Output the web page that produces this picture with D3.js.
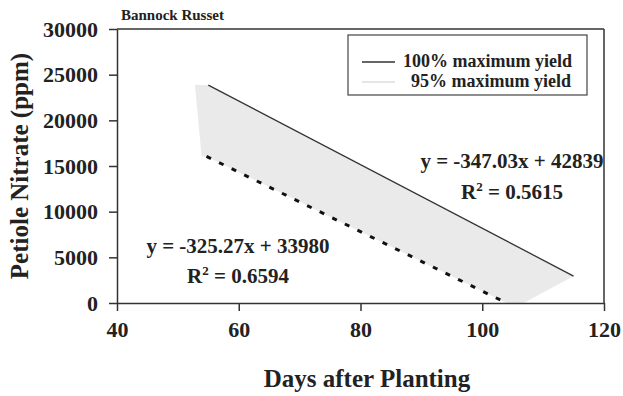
<!DOCTYPE html>
<html>
<head>
<meta charset="utf-8">
<script src="https://cdn.jsdelivr.net/npm/d3@7"></script>
<style>
  body { margin: 0; background: #fff; }
  text { font-family: "Liberation Serif", "Times New Roman", serif; font-weight: bold; fill: #222; }
</style>
</head>
<body>
<div id="chart"></div>
<script>
// values
var xTicks = [40, 60, 80, 100, 120];
var yTicks = [0, 5000, 10000, 15000, 20000, 25000, 30000];
var line100 = [[55, 23850], [115, 2950]];
var line95 = [[54.7, 16050], [104, 0]];
var band95 = [[52.8, 23900], [55, 23850], [115, 2950], [114.6, 2800], [106.8, 0], [104, 0], [54.7, 16050], [53.9, 16050]];
var legendLabels = ["100% maximum yield", "95% maximum yield"];
var eq100 = ["y = -347.03x + 42839", "0.5615"];
var eq95 = ["y = -325.27x + 33980", "0.6594"];

let svg = d3.select("#chart")
    .append("svg")
    .attr("width", 623)
    .attr("height", 396)

var x = d3.scaleLinear()
    .domain([40, 120])
    .range([117, 604]);
var y = d3.scaleLinear()
    .domain([0, 30000])
    .range([303, 29]);

// shaded band
svg.append("path")
    .datum(band95)
    .attr("d", d3.line().x(d => x(d[0])).y(d => y(d[1])))
    .attr("fill", "#eaeaea")
    .attr("stroke", "none")

svg.append("path")
    .datum(line100)
    .attr("d", d3.line().x(d => x(d[0])).y(d => y(d[1])))
    .attr("fill", "none")
    .attr("stroke", "#333")
    .attr("stroke-width", 1.3)

svg.append("path")
    .datum(line95)
    .attr("d", d3.line().x(d => x(d[0])).y(d => y(d[1])))
    .attr("fill", "none")
    .attr("stroke", "#111")
    .attr("stroke-width", 3)
    .attr("stroke-dasharray", "5,9")

// frame
svg.append("line")
    .attr("x1", x(40)).attr("x2", x(120))
    .attr("y1", y(30000)).attr("y2", y(30000))
    .attr("stroke", "#333").attr("stroke-width", 1.5)
svg.append("line")
    .attr("x1", x(120)).attr("x2", x(120))
    .attr("y1", y(30000)).attr("y2", y(0))
    .attr("stroke", "#333").attr("stroke-width", 1.5)

var xAxis = svg.append("g")
    .attr("transform", "translate(0," + y(0) + ")")
    .call(d3.axisBottom(x).tickValues(xTicks).tickSize(8).tickSizeOuter(0).tickPadding(10))
var yAxis = svg.append("g")
    .attr("transform", "translate(" + x(40) + ",0)")
    .call(d3.axisLeft(y).tickValues(yTicks).tickSize(8).tickSizeOuter(0).tickPadding(11).tickFormat(d3.format("d")))

svg.selectAll(".domain, .tick line")
    .attr("stroke", "#333")
    .attr("stroke-width", 1.5)
svg.selectAll(".tick text")
    .style("font-family", "'Liberation Serif', serif")
    .style("font-weight", "bold")
    .style("font-size", "22px")
    .attr("fill", "#222")

svg.append("text")
    .attr("x", 121)
    .attr("y", 20)
    .style("font-size", "15px")
    .text("Bannock Russet");

svg.append("text")
    .attr("text-anchor", "middle")
    .attr("x", 367)
    .attr("y", 387)
    .style("font-size", "25px")
    .text("Days after Planting");

svg.append("text")
    .attr("text-anchor", "middle")
    .attr("x", -166)
    .attr("y", 28)
    .attr("transform", "rotate(-90)")
    .style("font-size", "25px")
    .text("Petiole Nitrate (ppm)");

// legend
svg.append("rect")
    .attr("x", 348).attr("y", 35)
    .attr("width", 239).attr("height", 60)
    .attr("fill", "#fff")
    .attr("stroke", "#444").attr("stroke-width", 1.2)
svg.append("line")
    .attr("x1", 362).attr("x2", 395).attr("y1", 62).attr("y2", 62)
    .attr("stroke", "#333").attr("stroke-width", 1.3)
svg.append("line")
    .attr("x1", 362).attr("x2", 395).attr("y1", 82).attr("y2", 82)
    .attr("stroke", "#ddd").attr("stroke-width", 1.3)
svg.append("text")
    .attr("x", 403).attr("y", 67)
    .style("font-size", "18px")
    .text(legendLabels[0]);
svg.append("text")
    .attr("x", 411).attr("y", 87)
    .style("font-size", "18px")
    .text(legendLabels[1]);

// equations
function equation(cx, y1, y2, eq) {
    svg.append("text")
        .attr("text-anchor", "middle")
        .attr("x", cx).attr("y", y1)
        .style("font-size", "21px")
        .text(eq[0]);
    let r = svg.append("text")
        .attr("text-anchor", "middle")
        .attr("x", cx).attr("y", y2)
        .style("font-size", "21px")
    r.append("tspan").text("R")
    r.append("tspan").attr("dy", -8).style("font-size", "13px").text("2")
    r.append("tspan").attr("dy", 8).text(" = " + eq[1])
}
equation(512, 168, 199, eq100);
equation(238, 253, 283, eq95);
</script>
</body>
</html>
